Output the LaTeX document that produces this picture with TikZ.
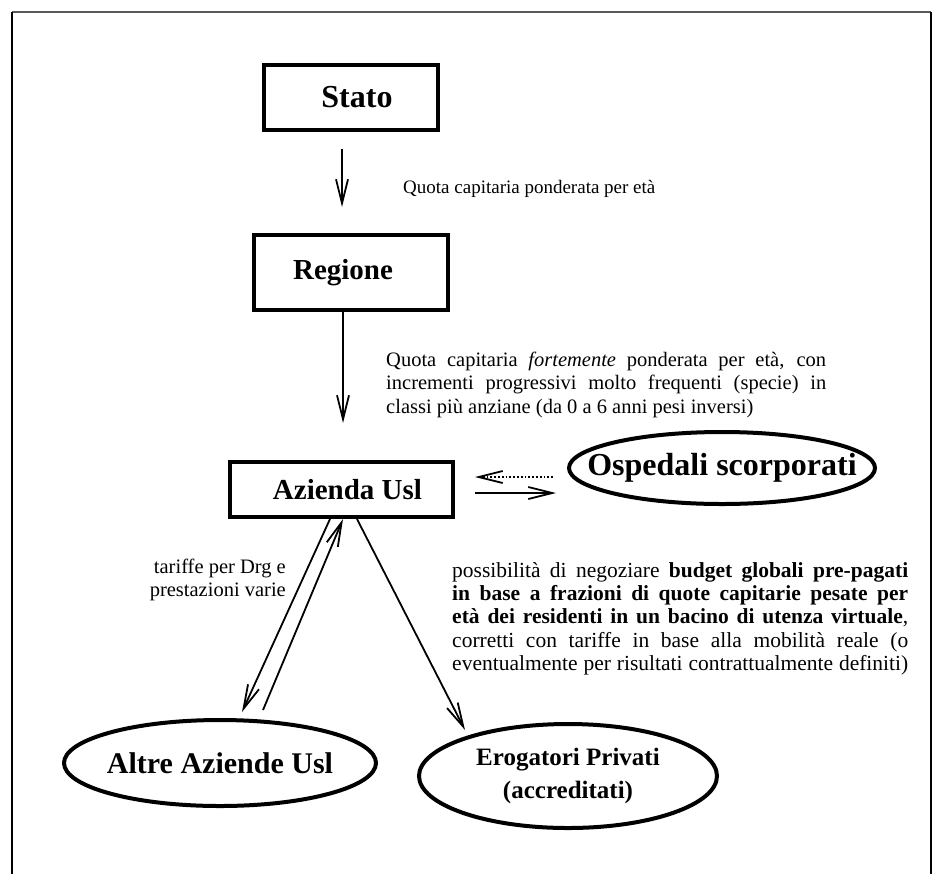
\documentclass[tikz,border=0pt]{standalone}
\usepackage{fontspec}
\setmainfont{Liberation Serif}
\usetikzlibrary{arrows.meta,shapes.geometric}
\setlength{\parindent}{0pt}
\begin{document}
\begin{tikzpicture}[x=1pt,y=-1pt,
  box/.style={draw, line width=4pt, inner sep=0pt,
    font=\bfseries\fontsize{29}{33}\selectfont},
  oval/.style={draw, ellipse, line width=4pt, inner sep=0pt},
  ovaltext/.style={inner sep=0pt, align=center},
  flow/.style={line width=1.8pt,
    -{Straight Barb[length=24pt,width=12pt]}},
  note/.style={inner sep=0pt, anchor=north west, align=left,
    font=\fontsize{20.5}{23.3}\selectfont}
]
\useasboundingbox (0,0) rectangle (936,873);

% outer frame
\draw[line width=2.5pt, black!65] (12,12) -- (931,12);
\draw[line width=1.2pt] (12,12) -- (12,880);
\draw[line width=1.2pt] (931,12) -- (931,880);

% boxes
\node[box, minimum width=174, minimum height=65] (stato) at (351,97.5)
  {\fontsize{32}{36}\selectfont\hspace*{12pt}Stato};
\node[box, minimum width=194, minimum height=75] (reg) at (351,272.5)
  {Regione\hspace*{16pt}};
\node[box, minimum width=223, minimum height=55] (az) at (341.5,489.5)
  {\hspace*{12pt}Azienda Usl};

% ellipses, drawn at fixed size, with their texts on top
\node[oval, minimum width=306, minimum height=72] (osp) at (722,468) {};
\node[ovaltext, font=\bfseries\fontsize{32}{35}\selectfont] (ospt) at (osp)
  {Ospedali scorporati};
\node[oval, minimum width=312, minimum height=86] (altre) at (220,763) {};
\node[ovaltext, font=\bfseries\fontsize{30}{34}\selectfont] (altret) at (altre)
  {Altre Aziende Usl};
\node[oval, minimum width=298, minimum height=104] (erog) at (568,776) {};
\node[ovaltext, font=\bfseries\fontsize{25}{33}\selectfont] (erogt) at (erog)
  {Erogatori Privati\\(accreditati)};

% free ends of the connectors
\coordinate (s1) at (342,149);
\coordinate (s2) at (342,207);
\coordinate (r2) at (343,423);
\coordinate (d1) at (553,477);
\coordinate (d2) at (475,477);
\coordinate (o1) at (475,493);
\coordinate (o2) at (556,493);
\coordinate (a1) at (242,712);
\coordinate (a2) at (263,710);
\coordinate (e1) at (465,730);

% connectors
\draw[flow] (s1) -- (s2);
\draw[flow] ([xshift=-8pt]reg.south) -- (r2);
\draw[flow, dotted] (d1) -- (d2);
\draw[flow] (o1) -- (o2);
\draw[flow] ([xshift=-11.5pt]az.south) -- (a1);
\draw[flow] (a2) -- ([xshift=1.5pt]az.south);
\draw[flow] ([xshift=15.5pt]az.south) -- (e1);

% labels
\node[note, font=\fontsize{19}{23}\selectfont] (q1) at (403,180)
  {Quota capitaria ponderata per età};
\node[note] (q2) at (386,352)
  {\hbox to 440pt{Quota capitaria \textit{fortemente} ponderata per età, con}\\
   \hbox to 440pt{incrementi progressivi molto frequenti (specie) in}\\
   classi più anziane (da 0 a 6 anni pesi inversi)};
\node[note, anchor=north east, align=right] (tar) at (286,559)
  {tariffe per Drg e\\prestazioni varie};
\node[note, font=\fontsize{21.5}{23.3}\selectfont] (bud) at (452,562)
  {\hbox to 456pt{possibilità di negoziare \textbf{budget globali pre-pagati}}\\
   \hbox to 456pt{\textbf{in base a frazioni di quote capitarie pesate per}}\\
   \hbox to 456pt{\textbf{età dei residenti in un bacino di utenza virtuale},}\\
   \hbox to 456pt{corretti con tariffe in base alla mobilità reale (o}\\
   \hbox to 456pt{eventualmente per risultati contrattualmente definiti)}};
\end{tikzpicture}
\end{document}
